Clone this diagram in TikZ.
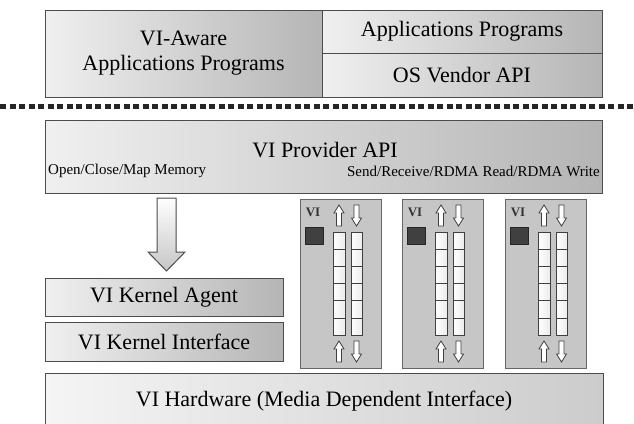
\documentclass[tikz,border=0pt]{standalone}
\usepackage{fontspec}
\setmainfont{Liberation Serif}
\begin{document}
\begin{tikzpicture}[x=1pt,y=-1pt,
  box/.style={draw=black!70, line width=1pt, left color=gray!12, right color=gray!58, inner sep=0pt,
    font=\fontsize{22}{25}\selectfont, align=center},
  small/.style={font=\fontsize{15}{17}\selectfont, inner sep=0pt},
  panel/.style={draw=black!60, line width=1pt, fill=gray!45, minimum width=81pt, minimum height=169pt, inner sep=0pt},
  cell/.style={draw=black!75, line width=0.8pt, left color=white, right color=gray!15},
  hollow/.style={draw=black!75, line width=0.8pt, fill=white},
  uparr/.pic={\draw[hollow] (0,0) -- (5,8) -- (2.5,8) -- (2.5,21) -- (-2.5,21) -- (-2.5,8) -- (-5,8) -- cycle;},
  downarr/.pic={\draw[hollow] (0,0) -- (5,-8) -- (2.5,-8) -- (2.5,-21) -- (-2.5,-21) -- (-2.5,-8) -- (-5,-8) -- cycle;}
]
\useasboundingbox (0,0) rectangle (634,423);

% top user-level boxes
\node[box, minimum width=277pt, minimum height=87pt] (aware) at (183.5,53.5) {VI-Aware\\Applications Programs};
\node[box, minimum width=280pt, minimum height=43pt] (apps) at (462,31.5) {Applications Programs};
\node[box, minimum width=280pt, minimum height=44pt] (osapi) at (462,75) {OS Vendor API};

% dotted separator
\coordinate (sepL) at (0,106);
\coordinate (sepR) at (634,106);
\draw[line width=5pt, dash pattern=on 6pt off 3.5pt, black!85] (sepL) -- (sepR);

% provider API
\node[box, minimum width=557pt, minimum height=73pt] (prov) at (323.5,156.5) {};
\node[font=\fontsize{22}{25}\selectfont] (provt) at (325,150) {VI Provider API};
\node[small, anchor=west] (openl) at (48,171) {Open/Close/Map Memory};
\node[small, anchor=east] (sendl) at (600,171) {Send/Receive/RDMA Read/RDMA Write};

% big hollow arrow
\draw[draw=black!70, line width=1pt, top color=white, bottom color=gray!45]
  (157,198) -- (176,198) -- (176,252) -- (185,252) -- (166.5,271) -- (148,252) -- (157,252) -- cycle;

% kernel boxes
\node[box, minimum width=238pt, minimum height=38pt] (agent) at (164,297) {VI Kernel Agent};
\node[box, minimum width=238pt, minimum height=39pt] (kif) at (164,341.5) {VI Kernel Interface};

% hardware
\node[box, minimum width=558pt, minimum height=57pt, left color=gray!8, right color=gray!40] (hw) at (324,401.5) {VI Hardware (Media Dependent Interface)};

% VI panels
\foreach \L/\n in {300/p1, 402/p2, 505/p3} {
  \node[panel] (\n) at (\L+40.5,283.5) {};
  \node[font=\fontsize{13}{14}\selectfont\bfseries, text=black!80, inner sep=0pt] (\n-vi) at (\L+13,212) {VI};
  \node[fill=black!75, draw=black!85, minimum width=18pt, minimum height=17pt, inner sep=0pt] (\n-sq) at (\L+14,235.5) {};
  \foreach \k in {0,...,5} {
    \draw[cell] (\L+33,232+\k*17.2) rectangle ++(12,17.2);
    \draw[cell] (\L+51,232+\k*17.2) rectangle ++(11,17.2);
  }
  \pic at (\L+39,205) {uparr};
  \pic at (\L+56.5,226) {downarr};
  \pic at (\L+39,341) {uparr};
  \pic at (\L+56.5,362) {downarr};
}
\end{tikzpicture}
\end{document}
